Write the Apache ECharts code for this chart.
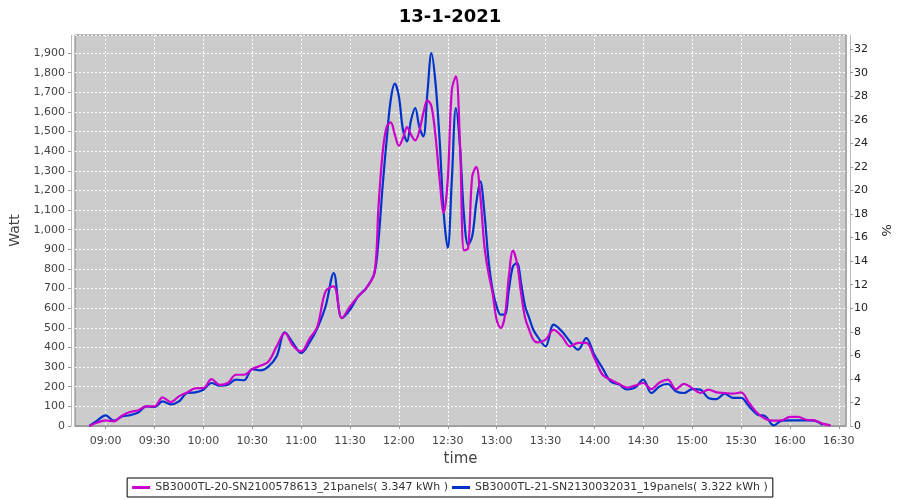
<!DOCTYPE html>
<html>
<head>
<meta charset="utf-8">
<script src="https://cdn.jsdelivr.net/npm/echarts@6/dist/echarts.min.js"></script>
<style>
  html, body { margin: 0; padding: 0; background: #fff; }
  #chart { width: 900px; height: 500px; }
</style>
</head>
<body>
<div id="chart"></div>
<script>
// sample times, 13-1-2021
const times = [
  '08:50', '08:55', '09:00', '09:05', '09:10', '09:15', '09:20', '09:25', '09:30', '09:35',
  '09:40', '09:45', '09:50', '09:55', '10:00', '10:05', '10:10', '10:15', '10:20', '10:25',
  '10:30', '10:35', '10:40', '10:45', '10:50', '10:55', '11:00', '11:05', '11:10', '11:15',
  '11:20', '11:25', '11:30', '11:35', '11:40', '11:45', '11:47:30', '11:50', '11:52:30', '11:55',
  '11:57:30', '12:00', '12:02:30', '12:05', '12:07:30', '12:10', '12:12:30', '12:15', '12:17:30', '12:20',
  '12:22:30', '12:25', '12:27:30', '12:30', '12:32:30', '12:35', '12:37:30', '12:40', '12:42:30', '12:45',
  '12:47:30', '12:50', '12:52:30', '12:55', '12:57:30', '13:00', '13:02:30', '13:05', '13:07:30', '13:10',
  '13:12:30', '13:15', '13:17:30', '13:20', '13:22:30', '13:25', '13:30', '13:35', '13:40', '13:45',
  '13:50', '13:55', '14:00', '14:05', '14:10', '14:15', '14:20', '14:25', '14:30', '14:35',
  '14:40', '14:45', '14:50', '14:55', '15:00', '15:05', '15:10', '15:15', '15:20', '15:25',
  '15:30', '15:35', '15:40', '15:45', '15:50', '15:55', '16:00', '16:05', '16:10', '16:15',
  '16:20', '16:25'
];

// Watt, SB3000TL-20 (21 panels)
const sb20 = [
  0, 18, 29, 24, 52, 71, 80, 100, 100, 146,
  122, 151, 171, 192, 193, 239, 210, 219, 261, 261,
  290, 307, 329, 406, 474, 409, 380, 443, 508, 686,
  711, 550, 609, 660, 703, 779, 1119, 1391, 1526, 1547,
  1484, 1428, 1467, 1523, 1484, 1455, 1501, 1594, 1659, 1628,
  1475, 1255, 1085, 1255, 1713, 1781, 1441, 895, 905, 1270,
  1320, 1170, 915, 779, 677, 541, 499, 558, 762, 894,
  830, 677, 550, 490, 440, 426, 440, 490, 457, 406,
  423, 423, 346, 261, 236, 215, 196, 206, 219, 188,
  222, 236, 188, 215, 193, 168, 185, 171, 168, 165,
  171, 117, 66, 36, 27, 29, 46, 46, 32, 29,
  12, 3
];

// Watt, SB3000TL-21 (19 panels)
const sb21 = [
  0, 29, 54, 27, 48, 55, 69, 100, 96, 125,
  110, 125, 168, 171, 185, 219, 205, 210, 236, 233,
  290, 283, 304, 355, 477, 423, 372, 423, 499, 609,
  779, 550, 592, 660, 703, 779, 949, 1221, 1458, 1662,
  1744, 1679, 1509, 1450, 1560, 1620, 1526, 1475, 1696, 1900,
  1746, 1458, 1085, 907, 1255, 1620, 1424, 1068, 923, 966,
  1136, 1246, 1085, 847, 694, 609, 567, 567, 694, 813,
  830, 728, 609, 550, 490, 457, 406, 516, 483, 431,
  389, 448, 363, 295, 227, 212, 186, 196, 236, 168,
  202, 214, 177, 168, 188, 185, 143, 137, 165, 143,
  143, 100, 58, 49, 3, 27, 29, 29, 29, 27,
  6, null
];

// x tick labels (every half hour)
const timeTicks = [
  '09:00', '09:30', '10:00', '10:30', '11:00', '11:30', '12:00', '12:30',
  '13:00', '13:30', '14:00', '14:30', '15:00', '15:30', '16:00', '16:30'
];

const seriesNames = [
  'SB3000TL-20-SN2100578613_21panels( 3.347 kWh )',
  'SB3000TL-21-SN2130032031_19panels( 3.322 kWh )'
];

// minutes since midnight
function toMin(s) {
  const p = s.split(':').map(Number);
  return p[0] * 60 + p[1] + (p[2] || 0) / 60;
}
function fmtMin(v) {
  const h = Math.floor(v / 60), m = Math.round(v - h * 60);
  return String(h).padStart(2, '0') + ':' + String(m).padStart(2, '0');
}
function pairs(vals) {
  return times.map((t, i) => [toMin(t), vals[i]]);
}
const tickMins = timeTicks.map(toMin);

const font = 'DejaVu Sans';
const gridLine = { show: true, lineStyle: { color: '#ffffff', type: [2, 2], width: 1 } };
const chart = echarts.init(document.getElementById('chart'));

chart.setOption({
  animation: false,
  textStyle: { fontFamily: font },
  title: {
    text: '13-1-2021',
    left: 'center',
    top: 3,
    textStyle: { fontFamily: font, fontSize: 18, fontWeight: 'bold', color: '#000' }
  },
  grid: {
    left: 75, right: 53, top: 35, bottom: 74,
    show: true,
    backgroundColor: '#cccccc',
    borderColor: '#7a7a7a',
    borderWidth: 1
  },
  legend: {
    bottom: 3,
    left: 'center',
    data: seriesNames,
    icon: 'rect',
    itemWidth: 18,
    itemHeight: 3,
    itemGap: 4,
    padding: [4, 5],
    borderColor: '#000',
    borderWidth: 1,
    borderRadius: 0,
    textStyle: { fontFamily: font, fontSize: 11, color: '#333' }
  },
  xAxis: {
    type: 'value',
    min: toMin('08:41:12'),
    max: toMin('16:34:30'),
    offset: 4,
    name: 'time',
    nameLocation: 'middle',
    nameGap: 22,
    nameTextStyle: { fontFamily: font, fontSize: 15, color: '#444' },
    axisLine: { lineStyle: { color: '#999' } },
    axisTick: { show: true, length: 3, customValues: tickMins, lineStyle: { color: '#999' } },
    axisLabel: {
      customValues: tickMins,
      formatter: fmtMin,
      fontFamily: font, fontSize: 11, color: '#444', margin: 6
    },
    splitLine: gridLine
  },
  yAxis: [
    {
      type: 'value',
      min: 0,
      max: 1992,
      interval: 100,
      offset: 4,
      name: 'Watt',
      nameLocation: 'middle',
      nameRotate: 90,
      nameGap: 46,
      nameTextStyle: { fontFamily: font, fontSize: 14, color: '#444' },
      axisLine: { show: true, lineStyle: { color: '#bbb' } },
      axisTick: { show: true, length: 3, lineStyle: { color: '#999' } },
      axisLabel: {
        showMaxLabel: false,
        fontFamily: font, fontSize: 11, color: '#444', margin: 6,
        formatter: v => v.toLocaleString('en-US')
      },
      splitLine: gridLine
    },
    {
      type: 'value',
      min: 0,
      max: 33.2,
      interval: 2,
      offset: 4,
      position: 'right',
      name: '%',
      nameLocation: 'middle',
      nameRotate: -90,
      nameGap: 26,
      nameTextStyle: { fontFamily: font, fontSize: 13, color: '#222' },
      axisLine: { show: true, lineStyle: { color: '#bbb' } },
      axisTick: { show: true, length: 3, lineStyle: { color: '#999' } },
      axisLabel: { showMaxLabel: false, fontFamily: font, fontSize: 11, color: '#222', margin: 4 },
      splitLine: { show: false }
    }
  ],
  series: [
    {
      name: seriesNames[0],
      type: 'line',
      smooth: 0.35,
      showSymbol: false,
      z: 3,
      color: '#cc00cc',
      lineStyle: { width: 2.2, color: '#cc00cc' },
      data: pairs(sb20)
    },
    {
      name: seriesNames[1],
      type: 'line',
      smooth: 0.35,
      showSymbol: false,
      z: 2,
      color: '#0033cc',
      lineStyle: { width: 2.2, color: '#0033cc' },
      data: pairs(sb21)
    }
  ]
});
</script>
</body>
</html>
